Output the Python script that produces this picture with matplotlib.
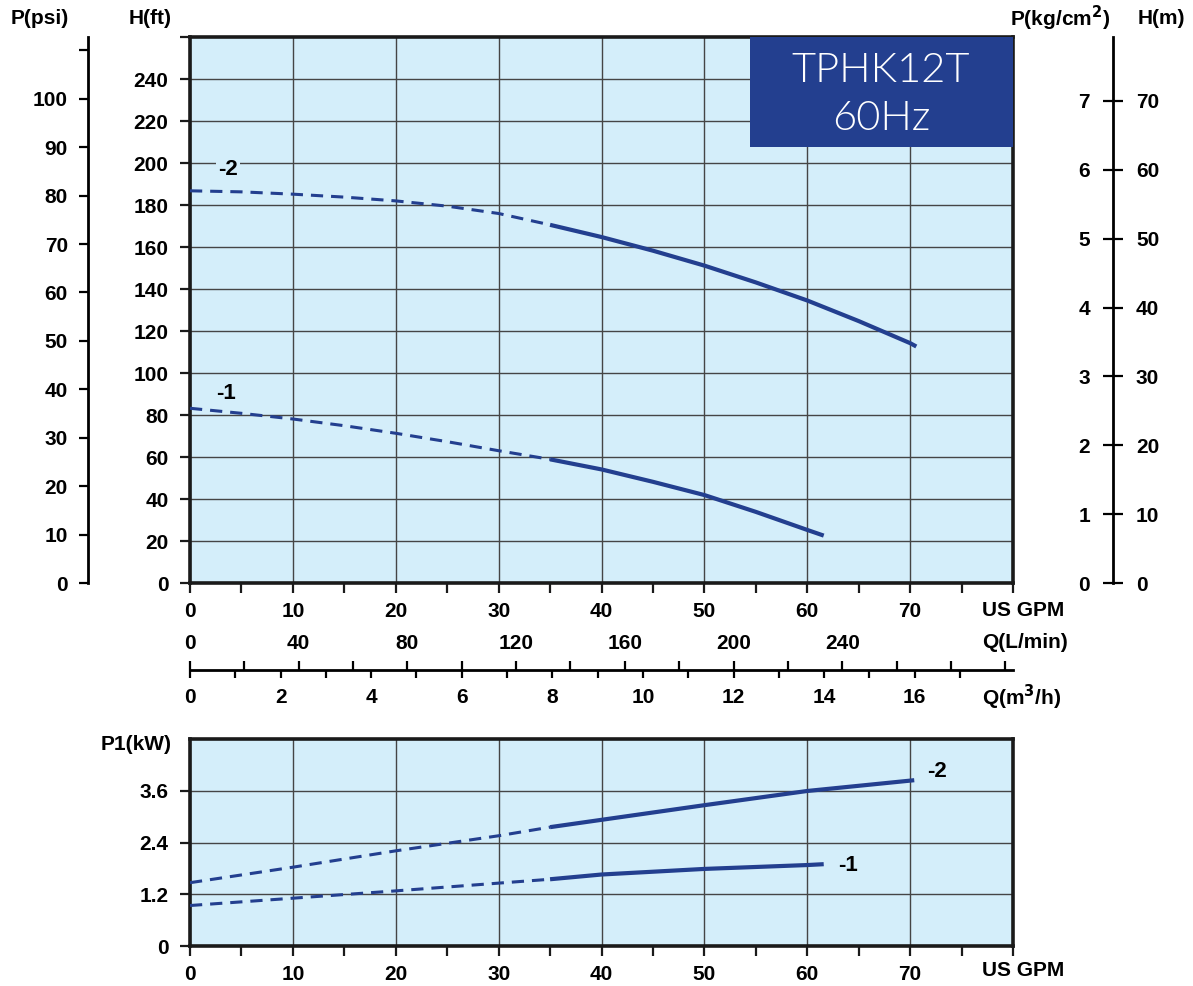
import numpy as np
import matplotlib
matplotlib.use("Agg")
import matplotlib.pyplot as plt
import matplotlib.transforms as mtransforms
from matplotlib.patches import Rectangle

plt.rcParams['font.family'] = ['Liberation Sans', 'DejaVu Sans']
plt.rcParams['font.weight'] = 'bold'
plt.rcParams['font.size'] = 15

# Flow where the curves change from dashed (outside range) to solid
q_split = 35

# Head curves, H(ft) vs US GPM
q_h2 = [0, 5, 10, 15, 20, 25, 30, 35, 40, 45, 50, 55, 60, 65, 70, 70.6]
h2 = [186.8, 186.3, 185.2, 183.8, 182.0, 179.5, 176.0, 170.6, 164.8, 158.3,
      151.2, 143.2, 134.6, 124.8, 114.3, 112.7]
q_h1 = [0, 5, 10, 15, 20, 25, 30, 35, 40, 45, 50, 55, 60, 61.6]
h1 = [83.3, 80.9, 78.2, 75.0, 71.4, 67.4, 63.1, 59.0, 54.2, 48.3, 42.0, 34.0,
      25.4, 22.7]

# Power curves, P1(kW) vs US GPM
q_p2 = [0, 10, 20, 30, 35, 40, 50, 60, 70.4]
p2 = [1.47, 1.83, 2.21, 2.56, 2.76, 2.93, 3.27, 3.60, 3.85]
q_p1 = [0, 10, 20, 30, 35, 40, 50, 60, 61.6]
p1 = [0.94, 1.11, 1.28, 1.46, 1.55, 1.66, 1.79, 1.88, 1.90]

gpm_ticks = [0, 10, 20, 30, 40, 50, 60, 70]
ft_ticks = [0, 20, 40, 60, 80, 100, 120, 140, 160, 180, 200, 220, 240]
psi_ticks = [0, 10, 20, 30, 40, 50, 60, 70, 80, 90, 100]
m_ticks = [0, 10, 20, 30, 40, 50, 60, 70]
kg_ticks = [0, 1, 2, 3, 4, 5, 6, 7]
lmin_ticks = [0, 40, 80, 120, 160, 200, 240]
m3h_ticks = [0, 2, 4, 6, 8, 10, 12, 14, 16]
kw_ticks = [0, 1.2, 2.4, 3.6]
kw_labels = ["0", "1.2", "2.4", "3.6"]

model = "TPHK12T"
freq = "60Hz"

BG = "#d4eefa"
NAVY = "#233f8f"
GRID = "#454545"
W, H = 1193, 986


def fx(px):
    return px / W


def fy(py):
    return 1 - py / H


def draw_curve(a, q, v):
    q = np.array(q)
    v = np.array(v)
    dash = q <= q_split
    solid = q >= q_split
    a.plot(q[dash], v[dash], color=NAVY, lw=2.2, dashes=(4, 2.6), zorder=3)
    a.plot(q[solid], v[solid], color=NAVY, lw=3.0, solid_capstyle='butt', zorder=3)


def style_axes(a):
    a.set_facecolor(BG)
    for s in a.spines.values():
        s.set_linewidth(2.6)
        s.set_color("#1a1a1a")
    a.grid(True, which='major', color=GRID, lw=1.0)
    a.set_axisbelow(True)
    a.set_xticks(gpm_ticks)
    a.set_xticks([5, 15, 25, 35, 45, 55, 65, 75, 80], minor=True)
    a.tick_params(which='both', direction='out', length=7.5, width=1.6, color="#1a1a1a")
    a.tick_params(axis='x', which='major', pad=6)


fig = plt.figure(figsize=(W / 100, H / 100), dpi=100)

# ---------- head chart ----------
ax = fig.add_axes([fx(190), fy(583.3), fx(823), 546.3 / H])
ax.set_xlim(0, 80)
ax.set_ylim(0, 260)
style_axes(ax)
ax.set_yticks(ft_ticks)
ax.set_yticks([260], minor=True)
ax.tick_params(axis='y', which='both', length=7.5, pad=8)

draw_curve(ax, q_h2, h2)
draw_curve(ax, q_h1, h1)
ax.text(3.7, 196.8, "-2", ha='center', va='center', zorder=4, fontsize=16,
        bbox=dict(facecolor=BG, edgecolor='none', pad=1.5))
ax.text(3.5, 90.4, "-1", ha='center', va='center', zorder=4, fontsize=16,
        bbox=dict(facecolor=BG, edgecolor='none', pad=1.5))

# model box
ax.add_patch(Rectangle(((750 - 190) / 823, (583.3 - 147) / 546.3),
                       1, 1, transform=ax.transAxes, facecolor=NAVY,
                       edgecolor='none', zorder=5, clip_on=True))
title_font = dict(family=['Lato', 'Open Sans', 'DejaVu Sans'], fontweight=300,
                  fontsize=30, color='white', ha='center', va='center', zorder=6)
ax.text((881 - 190) / 823, (583.3 - 70) / 546.3, model, transform=ax.transAxes, **title_font)
ax.text((881 - 190) / 823, (583.3 - 118) / 546.3, freq, transform=ax.transAxes, **title_font)

# left P(psi) scale
psi = ax.secondary_yaxis((88 - 190) / 823, functions=(lambda f: f / 2.3067, lambda p: p * 2.3067))
psi.set_yticks(psi_ticks)
psi.set_yticks([110], minor=True)
psi.tick_params(which='both', direction='out', length=6.5, width=1.6, pad=8)
psi.spines['left'].set_linewidth(2.0)

# right H(m) and P(kg/cm2) scale
loc_r = (1113 - 190) / 823
hm = ax.secondary_yaxis(loc_r, functions=(lambda f: f * 0.3048, lambda m: m / 0.3048))
hm.set_yticks(m_ticks)
hm.tick_params(direction='inout', length=15, width=1.6, pad=9)
hm.spines['right'].set_linewidth(2.0)

kg = ax.secondary_yaxis(loc_r, functions=(lambda f: f * 0.03048, lambda k: k / 0.03048))
kg.set_alignment('left')
kg.set_yticks(kg_ticks)
kg.tick_params(length=0, pad=16.5)
kg.spines['left'].set_visible(False)

# flow scales below
lmin = ax.secondary_xaxis((583.3 - 630) / 546.3, functions=(lambda q: q * 3.7854, lambda l: l / 3.7854))
lmin.set_xticks(lmin_ticks)
lmin.tick_params(length=0, pad=3)
lmin.spines['bottom'].set_visible(False)

loc_m3 = (583.3 - 670) / 546.3
m3 = ax.secondary_xaxis(loc_m3, functions=(lambda q: q * 0.22712, lambda m: m / 0.22712))
m3.set_xticks(m3h_ticks)
m3.set_xticks(np.arange(1, 18, 2), minor=True)
m3.tick_params(which='both', direction='out', length=6, width=1.6, pad=7)
m3.spines['bottom'].set_linewidth(2.0)

lm_t = ax.secondary_xaxis(loc_m3, functions=(lambda q: q * 3.7854, lambda l: l / 3.7854))
lm_t.set_xticks(np.arange(0, 301, 20))
lm_t.tick_params(direction='in', length=6.5, width=1.6, labelbottom=False)
lm_t.spines['bottom'].set_visible(False)

tr = mtransforms.blended_transform_factory(ax.transData, ax.transAxes)
ax.text(77.0, (583.3 - 610) / 546.3, "US GPM", transform=tr, ha='left', va='center')
ax.text(77.0, (583.3 - 642) / 546.3, "Q(L/min)", transform=tr, ha='left', va='center')
ax.text(77.0, (583.3 - 697) / 546.3, "Q(m$^\\mathbf{3}$/h)", transform=tr, ha='left', va='center')

fig.text(fx(40), fy(18), "P(psi)", ha='center', va='center')
fig.text(fx(150), fy(18), "H(ft)", ha='center', va='center')
fig.text(fx(1060), fy(18), "P(kg/cm$^\\mathbf{2}$)", ha='center', va='center')
fig.text(fx(1161), fy(18), "H(m)", ha='center', va='center')

# ---------- power chart ----------
ax2 = fig.add_axes([fx(190), fy(946), fx(823), 206.7 / H])
ax2.set_xlim(0, 80)
ax2.set_ylim(0, 4.8)
style_axes(ax2)
ax2.set_yticks(kw_ticks)
ax2.set_yticklabels(kw_labels)
ax2.tick_params(axis='y', length=7.5, pad=8)

draw_curve(ax2, q_p2, p2)
draw_curve(ax2, q_p1, p1)
ax2.text(72.6, 4.05, "-2", ha='center', va='center', fontsize=16)
ax2.text(64.0, 1.88, "-1", ha='center', va='center', fontsize=16)

tr2 = mtransforms.blended_transform_factory(ax2.transData, ax2.transAxes)
ax2.text(77.0, (946 - 971) / 206.7, "US GPM", transform=tr2, ha='left', va='center')
fig.text(fx(136), fy(744), "P1(kW)", ha='center', va='center')

fig.savefig("out.png", dpi=100)
